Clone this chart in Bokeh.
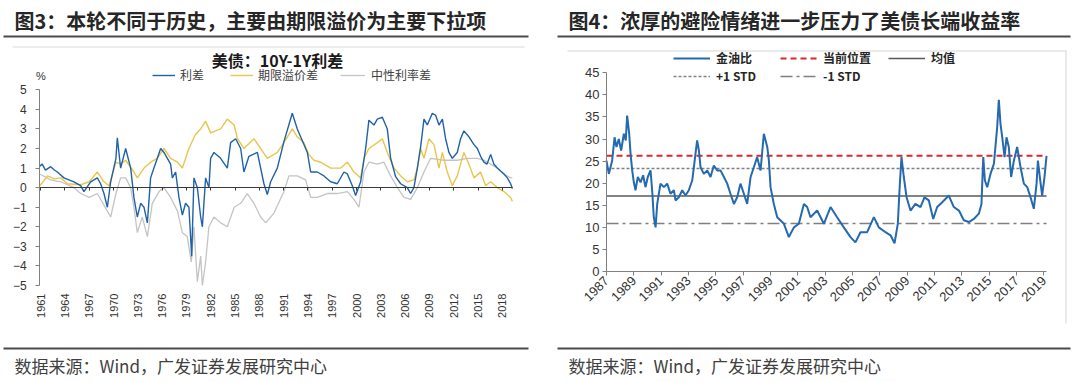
import math
from bokeh.plotting import figure
from bokeh.models import (Range1d, FixedTicker, Label, BoxAnnotation, Legend,
                          LegendItem, LinearAxis, CustomJSTickFormatter)
from bokeh.layouts import row
from bokeh.embed import file_html
from bokeh.resources import INLINE

CJK = "Noto Sans CJK SC"
LAT = "Liberation Sans"

# ---------------- left chart data: US Treasury 10Y-1Y spread decomposition ----------------
left_ticks = list(range(1961, 2019, 3))
left_yticks = list(range(-5, 6))

spread_year = [1960.88, 1961.2, 1961.6, 1962.24, 1962.7, 1963.07, 1963.88, 1965.11, 1965.94, 1966.35,
               1967.18, 1968.0, 1968.41, 1968.82, 1969.24, 1969.65, 1970.3, 1970.47, 1970.88, 1971.5,
               1972.12, 1972.52, 1972.94, 1973.35, 1973.76, 1974.18, 1974.58, 1974.99, 1975.41, 1975.82,
               1976.23, 1976.65, 1977.05, 1977.26, 1977.67, 1978.08, 1978.5, 1978.9, 1979.31, 1979.65,
               1979.93, 1980.35, 1980.76, 1980.97, 1981.37, 1981.78, 1981.99, 1982.4, 1983.23, 1984.05,
               1984.46, 1985.08, 1985.7, 1986.1, 1986.72, 1987.76, 1988.57, 1988.99, 1989.4, 1990.22,
               1991.04, 1992.07, 1992.69, 1993.31, 1993.93, 1994.34, 1995.16, 1995.98, 1996.81, 1997.63,
               1998.45, 1998.87, 1999.48, 1999.89, 2000.51, 2001.13, 2001.53, 2002.15, 2002.57, 2003.19,
               2003.8, 2004.21, 2004.83, 2005.45, 2006.27, 2006.68, 2007.09, 2007.51, 2007.92, 2008.33,
               2008.74, 2009.36, 2009.77, 2010.18, 2010.6, 2011.0, 2011.41, 2011.82, 2012.44, 2012.85,
               2013.26, 2013.88, 2014.5, 2014.92, 2015.32, 2015.73, 2016.1, 2016.56, 2016.97, 2017.39,
               2017.79, 2018.2, 2018.62, 2019.03, 2019.24]
spread_val = [1.1, 1.2, 0.9, 1.07, 0.9, 0.8, 0.5, 0.3, 0.1, -0.2,
              0.3, 0.5, 0.2, -0.3, -1.0, 0.3, 1.5, 2.55, 1.0, 2.0,
              1.0, -0.5, -1.5, -0.8, -1.0, -1.8, 0.5, 1.0, 1.5, 2.0,
              1.8, 1.5, 1.2, 0.5, 0.8, -0.5, -1.4, -0.8, -1.0, -3.5,
              0.5, 0.0, -1.5, -2.0, 0.5, 0.0, 1.5, 1.8, 1.5, 1.0,
              2.3, 2.5, 2.0, 0.8, 1.6, 1.8, 0.2, -0.35, 0.3, 1.0,
              2.35, 3.8, 3.0, 2.4, 1.8, 0.8, 0.8, 0.6, 0.3, 0.2,
              0.8, 0.7, 0.1, -0.4, 0.3, 2.0, 3.45, 3.2, 3.5, 3.6,
              3.0, 1.5, 0.56, 0.2, 0.0, -0.3, 0.0, 1.0, 2.1, 3.5,
              3.2, 3.8, 3.7, 3.2, 3.5, 2.5, 1.8, 1.5, 1.8, 2.5,
              2.9, 2.6, 2.2, 2.0, 1.6, 1.3, 1.2, 1.7, 1.2, 1.0,
              0.85, 0.7, 0.5, 0.2, -0.05]

premium_year = [1960.88, 1961.3, 1961.85, 1962.7, 1963.5, 1964.3, 1965.94, 1967.0, 1968.0, 1968.82,
                1969.45, 1970.3, 1970.88, 1971.5, 1972.52, 1972.94, 1973.76, 1974.58, 1975.41, 1976.23,
                1977.05, 1977.9, 1978.5, 1979.31, 1980.1, 1980.76, 1981.37, 1981.99, 1983.23, 1984.05,
                1984.9, 1985.3, 1986.1, 1987.34, 1988.16, 1988.99, 1990.22, 1991.04, 1992.07, 1992.69,
                1993.5, 1994.1, 1994.74, 1995.57, 1996.81, 1998.04, 1998.87, 1999.68, 2000.51, 2000.92,
                2001.53, 2002.57, 2003.19, 2003.8, 2004.62, 2005.45, 2006.27, 2007.09, 2007.51, 2007.92,
                2008.33, 2008.94, 2009.56, 2010.18, 2010.6, 2011.21, 2011.82, 2012.44, 2013.26, 2013.88,
                2014.5, 2015.32, 2015.94, 2016.56, 2017.39, 2018.2, 2019.03, 2019.24]
premium_val = [0.1, 0.3, 0.6, 0.45, 0.5, 0.2, 0.15, 0.3, 0.8, 0.3,
               0.1, 1.3, 1.2, 1.4, 0.8, 0.5, 1.0, 1.3, 1.5, 2.0,
               1.5, 1.3, 1.0, 2.0, 2.7, 3.0, 3.4, 2.8, 3.0, 3.5,
               3.2, 2.5, 2.0, 2.5, 2.0, 1.5, 1.8, 2.3, 3.0, 2.6,
               2.3, 1.7, 1.4, 1.3, 1.0, 1.0, 1.3, 0.8, 0.5, 1.5,
               2.0, 2.3, 2.5, 1.8, 1.0, 0.6, 0.3, 0.4, 1.0, 2.0,
               1.5, 2.5, 2.2, 1.0, 1.8, 0.8, 0.1, 0.6, 1.8, 1.2,
               0.5, 0.8, 0.1, 0.3, 0.0, -0.2, -0.5, -0.7]

neutral_year = [1960.88, 1962.24, 1963.5, 1965.11, 1965.94, 1967.0, 1968.0, 1969.24, 1969.65, 1970.3,
                1970.88, 1971.5, 1972.12, 1972.52, 1972.94, 1973.55, 1974.18, 1974.79, 1975.62, 1976.23,
                1977.05, 1977.9, 1978.5, 1979.1, 1979.6, 1979.93, 1980.35, 1980.76, 1980.97, 1981.37,
                1981.78, 1982.4, 1983.23, 1984.05, 1984.9, 1985.7, 1986.52, 1987.34, 1988.16, 1988.8,
                1989.81, 1991.04, 1991.66, 1992.69, 1993.72, 1994.34, 1995.16, 1996.4, 1997.63, 1998.87,
                1999.68, 2000.3, 2000.92, 2001.53, 2002.57, 2003.38, 2004.21, 2005.04, 2005.86, 2006.68,
                2007.51, 2008.33, 2009.15, 2010.79, 2012.44, 2013.68, 2014.92, 2015.73, 2016.56, 2017.39,
                2018.2, 2019.03, 2019.24]
neutral_val = [0.7, 0.4, 0.3, 0.0, -0.3, -0.5, -0.3, -1.2, -1.5, -0.3,
               0.5, 0.5, 0.0, -1.0, -2.3, -1.5, -2.5, -0.8, -0.2, 0.0,
               -0.5, -1.2, -2.3, -2.5, -3.8, -2.0, -4.8, -3.5, -5.0, -3.8,
               -2.0, -1.5, -1.8, -2.0, -1.0, -0.8, -0.3, -0.8, -1.5, -1.8,
               -1.3, -0.2, 0.6, 0.6, 0.4, -0.5, -0.5, -0.3, -0.3, -0.2,
               -0.6, -1.0, 0.8, 1.3, 1.2, 1.3, 0.6, 0.0, -0.5, -0.6,
               0.0, 0.8, 1.5, 1.4, 1.4, 1.5, 1.5, 1.4, 1.2, 1.0,
               0.7, 0.5, 0.5]

# ---------------- right chart data: gold / oil ratio ----------------
right_ticks = list(range(1987, 2020, 2))
right_yticks = list(range(0, 50, 5))

gor_year = [1987.0, 1987.17, 1987.41, 1987.59, 1987.73, 1987.9, 1988.07, 1988.27, 1988.41, 1988.51,
            1988.66, 1988.76, 1988.88, 1989.0, 1989.12, 1989.29, 1989.49, 1989.68, 1989.85, 1990.02,
            1990.22, 1990.34, 1990.46, 1990.59, 1990.71, 1990.95, 1991.2, 1991.44, 1991.68, 1991.93,
            1992.05, 1992.29, 1992.54, 1992.78, 1993.02, 1993.27, 1993.39, 1993.63, 1993.76, 1993.88,
            1994.12, 1994.37, 1994.61, 1994.85, 1995.1, 1995.34, 1995.59, 1995.83, 1996.07, 1996.32,
            1996.56, 1996.8, 1997.05, 1997.29, 1997.54, 1997.78, 1998.02, 1998.27, 1998.51, 1998.76,
            1998.88, 1999.0, 1999.24, 1999.49, 1999.98, 2000.34, 2000.71, 2001.07, 2001.44, 2001.68,
            2001.92, 2002.41, 2002.9, 2003.39, 2003.87, 2004.36, 2004.85, 2005.21, 2005.58, 2006.07,
            2006.56, 2006.92, 2007.41, 2007.78, 2008.07, 2008.31, 2008.46, 2008.58, 2008.75, 2008.95,
            2009.24, 2009.6, 2009.97, 2010.26, 2010.58, 2010.9, 2011.19, 2011.56, 2012.04, 2012.41,
            2012.78, 2013.14, 2013.51, 2013.87, 2014.24, 2014.43, 2014.56, 2014.68, 2014.85, 2015.09,
            2015.34, 2015.58, 2015.7, 2015.82, 2015.95, 2016.12, 2016.26, 2016.43, 2016.6, 2016.8,
            2017.04, 2017.29, 2017.53, 2017.78, 2018.02, 2018.26, 2018.46, 2018.56, 2018.7, 2018.87,
            2019.04, 2019.19]
gor_val = [25.1, 22.1, 25.0, 30.4, 28.2, 30.0, 27.4, 31.2, 29.7, 35.3,
           31.2, 26.7, 22.9, 20.2, 18.4, 21.4, 20.2, 21.8, 19.1, 21.4,
           22.9, 18.4, 12.3, 10.0, 15.3, 19.9, 19.1, 19.9, 17.6, 18.4,
           16.1, 16.8, 18.4, 17.2, 18.4, 20.6, 23.6, 29.7, 27.4, 23.6,
           22.1, 22.9, 21.4, 24.0, 22.9, 22.9, 21.4, 19.9, 17.6, 15.3,
           16.8, 19.9, 17.6, 15.3, 21.4, 23.6, 25.9, 22.9, 31.2, 28.2,
           25.1, 19.1, 15.3, 12.3, 10.8, 7.8, 10.0, 10.8, 15.3, 14.6,
           12.3, 13.8, 10.8, 14.6, 12.3, 10.0, 7.8, 6.6, 8.9, 8.9,
           12.3, 10.0, 8.9, 8.2, 6.4, 10.8, 19.9, 25.9, 21.4, 16.8,
           13.8, 15.3, 14.6, 16.8, 16.1, 11.9, 14.6, 15.7, 17.2, 14.6,
           13.8, 11.6, 11.2, 11.9, 13.1, 15.3, 25.9, 20.6, 19.1, 22.1,
           24.4, 32.7, 38.9, 33.5, 30.4, 25.9, 30.4, 28.2, 21.4, 25.1,
           28.2, 23.6, 19.9, 19.1, 16.8, 14.2, 19.9, 25.1, 21.4, 17.2,
           21.4, 26.2]
gor_current = 26.2
gor_mean = 17.1
gor_std = 6.25

# ---------------- style ----------------
BLUE = "#1F62A8"
GOLD = "#E8C64E"
LGRAY = "#C4C4C4"
RED = "#E0252B"
TXT = "#333333"
RULE = "#4a4a4a"

H = 382
W1 = 553
W2 = 527


class PanelMap:
    """Maps page pixels of a panel canvas to the panel's data units."""

    def __init__(self, canvas_left, width, x_ref_px, x_ref_val, px_per_x, y_zero_px, px_per_y):
        self.cl, self.w = canvas_left, width
        self.xr, self.xv, self.kx = x_ref_px, x_ref_val, px_per_x
        self.y0, self.ky = y_zero_px, px_per_y

    def X(self, px):
        return self.xv + (px - self.xr) / self.kx

    def Y(self, py):
        return (self.y0 - py) / self.ky

    def xrange(self):
        return Range1d(self.X(self.cl), self.X(self.cl + self.w))

    def yrange(self):
        return Range1d(self.Y(H), self.Y(0))


def make_fig(m, width):
    p = figure(width=width, height=H, output_backend="svg", toolbar_location=None,
               x_range=m.xrange(), y_range=m.yrange(),
               x_axis_location=None, y_axis_location=None,
               min_border=0, min_border_left=0, min_border_right=0,
               min_border_top=0, min_border_bottom=0)
    p.outline_line_color = None
    p.grid.visible = False
    p.background_fill_color = "white"
    p.border_fill_color = "white"
    return p


def box(p, m, x0, x1, y0, y1, color):
    p.add_layout(BoxAnnotation(left=m.X(x0), right=m.X(x1), top=m.Y(y0), bottom=m.Y(y1),
                               fill_color=color, fill_alpha=1.0, line_color=None))


def text(p, m, x, y, s, size, font=CJK, style="normal", color=TXT, align="left"):
    p.add_layout(Label(x=m.X(x), y=m.Y(y), text=s, text_font=font,
                       text_font_size=f"{size}px", text_font_style=style,
                       text_color=color, text_align=align, text_baseline="middle"))


def legend_item(p, m, x, cy, label, renderer, size, glyph_w, standoff, style="normal",
                color="#404040"):
    # one legend entry placed at page position (x = glyph start, cy = vertical centre)
    p.add_layout(Legend(items=[LegendItem(label=label, renderers=[renderer])],
                        location=(x - m.cl, H - (cy + 8)), orientation="horizontal",
                        label_text_font=CJK, label_text_font_size=f"{size}px",
                        label_text_font_style=style, label_text_color=color,
                        glyph_width=glyph_w, glyph_height=12, label_height=12,
                        label_standoff=standoff, padding=0, margin=0,
                        border_line_color=None, background_fill_alpha=0))


def style_axis(ax, size, color="#808080", tick_out=4):
    ax.axis_line_color = color
    ax.major_tick_line_color = color
    ax.major_tick_out = tick_out
    ax.major_tick_in = 0
    ax.minor_tick_line_color = None
    ax.major_label_text_font = LAT
    ax.major_label_text_font_size = f"{size}px"
    ax.major_label_text_color = TXT


# =============== LEFT ===============
m1 = PanelMap(0, W1, 39.3, 1960.9, 8.1, 187.15, 19.57)
p1 = make_fig(m1, W1)
x_lo, x_hi = spread_year[0], spread_year[-1]

ya = LinearAxis(fixed_location=x_lo, bounds=(-5, 5), ticker=FixedTicker(ticks=left_yticks))
style_axis(ya, 12)
ya.major_label_standoff = 9
p1.add_layout(ya, "left")

xa = LinearAxis(fixed_location=-5, bounds=(x_lo, x_hi), ticker=FixedTicker(ticks=left_ticks))
style_axis(xa, 11, tick_out=0)
xa.axis_line_color = None
xa.major_tick_line_color = None
xa.major_label_orientation = math.pi / 2
xa.major_label_standoff = 8
p1.add_layout(xa, "below")

za = LinearAxis(fixed_location=0, bounds=(x_lo, x_hi), ticker=FixedTicker(ticks=left_ticks),
                formatter=CustomJSTickFormatter(code="return ''"))
style_axis(za, 1, color="#3a3a3a", tick_out=3)
p1.add_layout(za, "below")

r_neu = p1.line(neutral_year, neutral_val, line_color=LGRAY, line_width=1.3)
r_pre = p1.line(premium_year, premium_val, line_color=GOLD, line_width=1.4)
r_spr = p1.line(spread_year, spread_val, line_color=BLUE, line_width=1.4)

legend_item(p1, m1, 152, 75, "利差", r_spr, 12, 23, 5)
legend_item(p1, m1, 230, 75, "期限溢价差", r_pre, 12, 23, 5)
legend_item(p1, m1, 340, 75, "中性利率差", r_neu, 12, 25, 6)

text(p1, m1, 40.5, 75, "%", 11, font=LAT, align="center")
text(p1, m1, 277, 59, "美债：10Y-1Y利差", 16, style="bold", color="#1a1a1a", align="center")
text(p1, m1, 14, 20, "图3：本轮不同于历史，主要由期限溢价为主要下拉项", 20, style="bold", color="#262626")
text(p1, m1, 14, 365, "数据来源：Wind，广发证券发展研究中心", 17, color="#404040")
box(p1, m1, 3, 528, 35, 37, RULE)
box(p1, m1, 12, 524, 46, 47, "#dcdcdc")
box(p1, m1, 3, 528, 347, 349, RULE)

# =============== RIGHT ===============
m2 = PanelMap(W1, W2, 606, 1987.0, 13.67, 271, 4.4156)
p2 = make_fig(m2, W2)
g_lo, g_hi = gor_year[0], gor_year[-1]

ya2 = LinearAxis(fixed_location=g_lo, bounds=(0, 45), ticker=FixedTicker(ticks=right_yticks))
style_axis(ya2, 13)
ya2.major_label_standoff = 3
p2.add_layout(ya2, "left")

xa2 = LinearAxis(fixed_location=0, bounds=(g_lo, g_hi), ticker=FixedTicker(ticks=right_ticks))
style_axis(xa2, 13)
xa2.major_label_orientation = math.pi / 4
xa2.major_label_standoff = 3
p2.add_layout(xa2, "below")

xs = [g_lo, g_hi]
r_cur = p2.line(xs, [gor_current, gor_current], line_color=RED, line_width=2, line_dash="6 4")
r_p1 = p2.line(xs, [gor_mean + gor_std] * 2, line_color="#808080", line_width=1.5, line_dash="3 2")
r_mean = p2.line(xs, [gor_mean] * 2, line_color="#5a5a5a", line_width=1.5)
r_m1 = p2.line(xs, [gor_mean - gor_std] * 2, line_color="#808080", line_width=1.5,
               line_dash="12 4 3 4")
r_gor = p2.line(gor_year, gor_val, line_color="#2569AE", line_width=2)

legend_item(p2, m2, 673, 58, "金油比", r_gor, 12, 37, 6, "bold", "#262626")
legend_item(p2, m2, 780, 58, "当前位置", r_cur, 12, 37, 6, "bold", "#262626")
legend_item(p2, m2, 888, 58, "均值", r_mean, 12, 37, 6, "bold", "#262626")
legend_item(p2, m2, 673, 76, "+1 STD", r_p1, 12, 37, 6, "bold", "#262626")
legend_item(p2, m2, 780, 76, "-1 STD", r_m1, 12, 37, 6, "bold", "#262626")

text(p2, m2, 568, 20, "图4：浓厚的避险情绪进一步压力了美债长端收益率", 20, style="bold", color="#262626")
text(p2, m2, 568, 365, "数据来源：Wind，广发证券发展研究中心", 17, color="#404040")
box(p2, m2, 557, 1070, 35, 37, RULE)
box(p2, m2, 567, 1066, 50, 51, "#d6d6d6")
box(p2, m2, 1065, 1066, 50, 323, "#d6d6d6")
box(p2, m2, 557, 1070, 347, 349, RULE)

layout = row(p1, p2)
open("out.html", "w").write(file_html(layout, INLINE))
